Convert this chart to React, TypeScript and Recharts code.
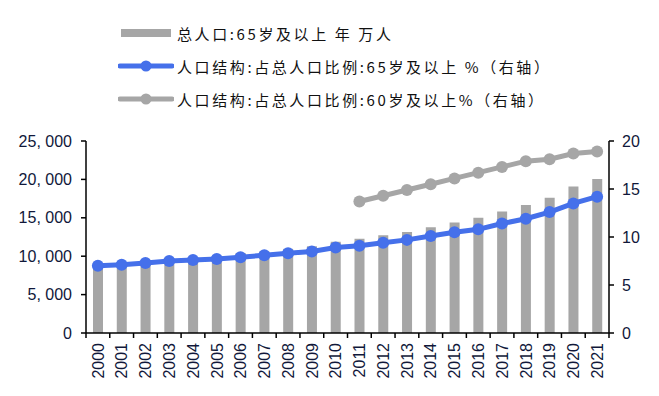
import React from 'react';
import { ComposedChart, Bar, Line, XAxis, YAxis } from 'recharts';

const years = ['2000', '2001', '2002', '2003', '2004', '2005', '2006', '2007', '2008', '2009', '2010',
    '2011', '2012', '2013', '2014', '2015', '2016', '2017', '2018', '2019', '2020', '2021'];
const pop65 = [8821, 9062, 9377, 9692, 9857, 10055, 10419, 10636, 10956, 11307, 11894,
    12288, 12714, 13161, 13755, 14386, 15003, 15831, 16658, 17603, 19064, 20056];
const share65 = [7.0, 7.1, 7.3, 7.5, 7.6, 7.7, 7.9, 8.1, 8.3, 8.5, 8.9,
    9.1, 9.4, 9.7, 10.1, 10.5, 10.8, 11.4, 11.9, 12.6, 13.5, 14.2];
const share60 = [null, null, null, null, null, null, null, null, null, null, null,
    13.7, 14.3, 14.9, 15.5, 16.1, 16.7, 17.3, 17.9, 18.1, 18.7, 18.9];
const leftTicks = [0, 5000, 10000, 15000, 20000, 25000];
const rightTicks = [0, 5, 10, 15, 20];

const LABEL_BAR = '总人口:65岁及以上 年 万人';
const LABEL_65 = '人口结构:占总人口比例:65岁及以上 %（右轴）';
const LABEL_60 = '人口结构:占总人口比例:60岁及以上%（右轴）';

const data = years.map((y, i) => ({ year: y, pop: pop65[i], s65: share65[i], s60: share60[i] }));

const TEXT = '#10183a';
const GREY = '#a6a6a6';
const BLUE = '#4570ea';
const FONT = 'Arial, "Liberation Sans", sans-serif';

const fmt = (v: number) => (v >= 1000 ? `${Math.floor(v / 1000)}, ${String(v % 1000).padStart(3, '0')}` : String(v));

const YearTick = (props: any) => {
    const { x, y, payload, index } = props;
    const half = payload?.offset || 11.9;
    return (
        <g>
            <line x1={x - half} x2={x - half} y1={y} y2={y + 5} stroke="#000" strokeWidth={1.5} />
            {index === years.length - 1 && (
                <line x1={x + half} x2={x + half} y1={y} y2={y + 5} stroke="#000" strokeWidth={1.5} />
            )}
            <text x={x} y={y + 10} transform={`rotate(-90, ${x}, ${y + 10})`} textAnchor="end" dy="0.36em"
                fill={TEXT} fontSize={16} fontFamily={FONT}>
                {payload.value}
            </text>
        </g>
    );
};

const LegendRow = ({ top, kind, color, label }: { top: number; kind: 'bar' | 'line'; color: string; label: string }) => (
    <div style={{ position: 'absolute', left: 118, top: top - 11, height: 22, display: 'flex', alignItems: 'center' }}>
        <svg width={56} height={22} style={{ display: 'block' }}>
            {kind === 'bar' ? (
                <rect x={3} y={7} width={50} height={8} fill={color} />
            ) : (
                <g>
                    <line x1={2} x2={54} y1={11} y2={11} stroke={color} strokeWidth={5} strokeLinecap="round" />
                    <circle cx={28} cy={11} r={5.5} fill={color} />
                </g>
            )}
        </svg>
        <span style={{ marginLeft: 3, fontSize: 15, letterSpacing: 2.6, color: '#111', whiteSpace: 'pre',
            fontFamily: '"Noto Sans CJK SC", sans-serif' }}>{label}</span>
    </div>
);

export default function App() {
    return (
        <div style={{ position: 'absolute', left: 0, top: 0, width: 659, height: 396, background: '#fff' }}>
            <LegendRow top={33} kind="bar" color={GREY} label={LABEL_BAR} />
            <LegendRow top={66} kind="line" color={BLUE} label={LABEL_65} />
            <LegendRow top={99} kind="line" color={GREY} label={LABEL_60} />
            <ComposedChart width={659} height={396} data={data}
                margin={{ top: 141, right: 0, bottom: 3, left: 0 }}>
                <XAxis dataKey="year" interval={0} tick={<YearTick />} tickLine={false} tickSize={0} tickMargin={0}
                    height={60} axisLine={{ stroke: '#000', strokeWidth: 1.5 }} />
                <YAxis yAxisId="left" width={86} domain={[0, 25000]} ticks={leftTicks} tickFormatter={fmt}
                    tick={{ fill: TEXT, fontSize: 16, fontFamily: FONT }} tickSize={5} tickMargin={9}
                    axisLine={{ stroke: '#000', strokeWidth: 1.5 }} tickLine={{ stroke: '#000', strokeWidth: 1.5 }} />
                <YAxis yAxisId="right" orientation="right" width={50} domain={[0, 20]} ticks={rightTicks}
                    tick={{ fill: TEXT, fontSize: 16, fontFamily: FONT }} tickSize={5} tickMargin={8}
                    axisLine={{ stroke: '#000', strokeWidth: 1.5 }} tickLine={{ stroke: '#000', strokeWidth: 1.5 }} />
                <Bar yAxisId="left" dataKey="pop" fill={GREY} barSize={10} isAnimationActive={false} />
                <Line yAxisId="right" dataKey="s60" stroke={GREY} strokeWidth={5} connectNulls={false}
                    dot={{ r: 6, fill: GREY, stroke: GREY, strokeWidth: 0 }} isAnimationActive={false} />
                <Line yAxisId="right" dataKey="s65" stroke={BLUE} strokeWidth={5}
                    dot={{ r: 6, fill: BLUE, stroke: BLUE, strokeWidth: 0 }} isAnimationActive={false} />
            </ComposedChart>
        </div>
    );
}
